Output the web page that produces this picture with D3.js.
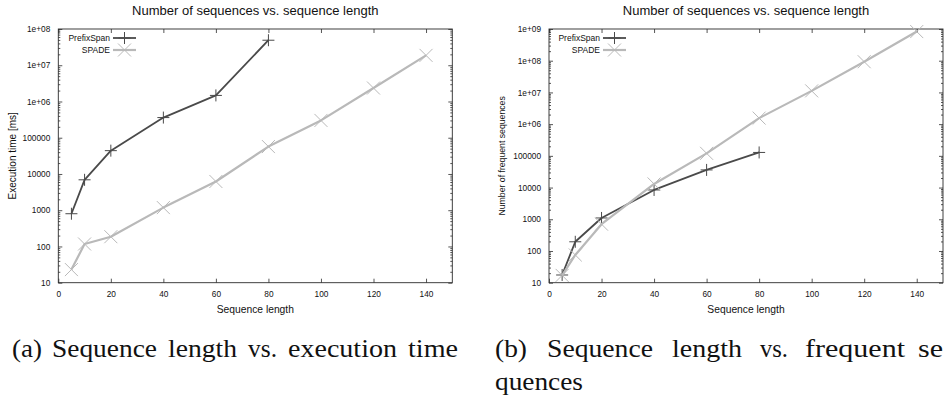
<!DOCTYPE html>
<html><head><meta charset="utf-8">
<script src="https://cdn.jsdelivr.net/npm/d3@7"></script>
<style>
html,body{margin:0;padding:0;background:#fff;}
svg{display:block;}
</style></head>
<body>
<svg id="c" width="944" height="397"></svg>
<script>
// ---- data ----
const lengthsPrefixSpan = [5, 10, 20, 40, 60, 80];
const lengthsSpade = [5, 10, 20, 40, 60, 80, 100, 120, 140];
const timePrefixSpan = [800, 6900, 44000, 360000, 1470000, 49000000];
const timeSpade = [23, 117, 186, 1180, 6200, 57000, 300000, 2350000, 18700000];
const freqPrefixSpan = [17.5, 195, 1100, 8400, 36000, 128000];
const freqSpade = [17, 75, 700, 13000, 120000, 1550000, 11200000, 93000000, 830000000];
const xTicks = [0, 20, 40, 60, 80, 100, 120, 140];
const timeTicks = [10, 100, 1000, 10000, 100000, 1e6, 1e7, 1e8];
const timeTickLabels = ["10", "100", "1000", "10000", "100000", "1e+06", "1e+07", "1e+08"];
const freqTicks = [10, 100, 1000, 10000, 100000, 1e6, 1e7, 1e8, 1e9];
const freqTickLabels = ["10", "100", "1000", "10000", "100000", "1e+06", "1e+07", "1e+08", "1e+09"];
const seriesNames = ["PrefixSpan", "SPADE"];
const chartTitle = "Number of sequences vs. sequence length";
const xLabel = "Sequence length";

const svg = d3.select("#c");
const SANS = "'Liberation Sans', Arial, Helvetica, sans-serif";
const SERIF = "'Liberation Serif', 'Times New Roman', serif";
const DARK = "#4a4a4a", LIGHT = "#b9b9b9", FRAME = "#2b2b2b";

function minorVals(domain) {
  const out = [];
  for (let e = Math.round(Math.log10(domain[0])); e < Math.round(Math.log10(domain[1])); e++) {
    for (let m = 2; m <= 9; m++) out.push(m * Math.pow(10, e));
  }
  return out;
}

function drawChart(o) {
  const g = svg.append("g");
  const x = d3.scaleLinear().domain([0, 150]).range([o.left, o.right]);
  const y = d3.scaleLog().domain(o.yDomain).range([o.bottom, o.top]);
  const W = o.right - o.left, H = o.bottom - o.top;

  const styleAxis = (sel, labels) => {
    sel.select(".domain").remove();
    sel.selectAll(".tick line").attr("stroke", FRAME).attr("stroke-width", 0.8);
    sel.selectAll(".tick text").attr("fill", "#111").attr("font-family", SANS).attr("font-size", 8.3);
    if (!labels) sel.selectAll(".tick text").remove();
  };
  g.append("g").attr("transform", `translate(0,${o.bottom})`)
    .call(d3.axisBottom(x).tickValues(xTicks).tickSizeInner(-4).tickSizeOuter(0).tickPadding(8).tickFormat(d3.format("d")))
    .call(s => styleAxis(s, true));
  g.append("g").attr("transform", `translate(0,${o.top})`)
    .call(d3.axisTop(x).tickValues(xTicks).tickSizeInner(-4).tickSizeOuter(0))
    .call(s => styleAxis(s, false));
  g.append("g").attr("transform", `translate(${o.left},0)`)
    .call(d3.axisLeft(y).tickValues(o.yTicks).tickSizeInner(-4).tickSizeOuter(0).tickPadding(8)
      .tickFormat((d, i) => o.yTickLabels[i]))
    .call(s => styleAxis(s, true));
  g.append("g").attr("transform", `translate(${o.right},0)`)
    .call(d3.axisRight(y).tickValues(o.yTicks).tickSizeInner(-4).tickSizeOuter(0))
    .call(s => styleAxis(s, false));
  const mv = minorVals(o.yDomain);
  g.append("g").attr("transform", `translate(${o.left},0)`)
    .call(d3.axisLeft(y).tickValues(mv).tickSizeInner(-2).tickSizeOuter(0).tickFormat(""))
    .call(s => styleAxis(s, false));
  g.append("g").attr("transform", `translate(${o.right},0)`)
    .call(d3.axisRight(y).tickValues(mv).tickSizeInner(-2).tickSizeOuter(0).tickFormat(""))
    .call(s => styleAxis(s, false));

  g.append("rect").attr("x", o.left).attr("y", o.top).attr("width", W).attr("height", H)
    .attr("fill", "none").attr("stroke", FRAME).attr("stroke-width", 0.9);

  g.append("text").attr("x", (o.left + o.right) / 2).attr("y", 15).attr("text-anchor", "middle")
    .attr("font-family", SANS).attr("font-size", 13).attr("fill", "#111").text(chartTitle);
  g.append("text").attr("x", (o.left + o.right) / 2).attr("y", 313).attr("text-anchor", "middle")
    .attr("font-family", SANS).attr("font-size", 10.3).attr("fill", "#111").text(xLabel);
  g.append("text").attr("transform", `translate(${o.yLabelX},${(o.top + o.bottom) / 2}) rotate(-90)`)
    .attr("text-anchor", "middle").attr("dy", "0.35em")
    .attr("font-family", SANS).attr("font-size", o.yLabelSize).attr("fill", "#111").text(o.yLabel);

  const line = d3.line().x(d => x(d[0])).y(d => y(d[1]));
  const series = [
    { name: seriesNames[0], xs: lengthsPrefixSpan, ys: o.prefix, color: DARK, w: 1.8, mark: "plus" },
    { name: seriesNames[1], xs: lengthsSpade, ys: o.spade, color: LIGHT, w: 2.2, mark: "cross" }
  ];
  const drawMark = (sel, cx, cy, type, color) => {
    const r = type === "plus" ? 6 : 6.5;
    const p = type === "plus"
      ? `M${cx - r},${cy}H${cx + r}M${cx},${cy - r}V${cy + r}`
      : `M${cx - r},${cy - r}L${cx + r},${cy + r}M${cx - r},${cy + r}L${cx + r},${cy - r}`;
    sel.append("path").attr("d", p).attr("stroke", color).attr("stroke-width", 1).attr("fill", "none");
  };
  series.forEach((s, k) => {
    const pts = s.xs.map((v, i) => [v, s.ys[i]]);
    g.append("path").datum(pts).attr("d", line).attr("fill", "none")
      .attr("stroke", s.color).attr("stroke-width", s.w).attr("stroke-linejoin", "round");
    pts.forEach(p => drawMark(g, x(p[0]), y(p[1]), s.mark, s.color));
    const ly = 38 + k * 12;
    g.append("text").attr("x", o.legX).attr("y", ly).attr("dy", "0.35em").attr("text-anchor", "end")
      .attr("font-family", SANS).attr("font-size", 8.5).attr("fill", "#111").text(s.name);
    g.append("line").attr("x1", o.legX + 3).attr("x2", o.legX + 26).attr("y1", ly).attr("y2", ly)
      .attr("stroke", s.color).attr("stroke-width", s.w);
    drawMark(g, o.legX + 14.5, ly, s.mark, s.color);
  });
}

drawChart({
  left: 58.3, right: 452.3, top: 29, bottom: 282.7,
  yDomain: [10, 1e8], yTicks: timeTicks, yTickLabels: timeTickLabels,
  yLabel: "Execution time [ms]", yLabelX: 12, yLabelSize: 10,
  prefix: timePrefixSpan, spade: timeSpade, legX: 110
});
drawChart({
  left: 549, right: 943, top: 29, bottom: 282.7,
  yDomain: [10, 1e9], yTicks: freqTicks, yTickLabels: freqTickLabels,
  yLabel: "Number of frequent sequences", yLabelX: 502, yLabelSize: 8.7,
  prefix: freqPrefixSpan, spade: freqSpade, legX: 600
});

// captions
const capAWords = ["(a)", "Sequence", "length", "vs.", "execution", "time"];
const capAWordX = [12, 52, 168, 248, 288, 408];
const capAWordW = [30, 105, 69, 29, 109, 50];
capAWords.forEach((w, i) => {
  svg.append("text").attr("x", capAWordX[i]).attr("y", 357).attr("font-family", SERIF).attr("font-size", 25)
    .attr("fill", "#111").attr("textLength", capAWordW[i]).attr("lengthAdjust", "spacingAndGlyphs").text(w);
});
const capBWords = ["(b)", "Sequence", "length", "vs.", "frequent", "se"];
const capBWordX = [495, 547, 672, 760, 805, 918];
const capBWordW = [32, 106, 70, 28, 100, 25];
capBWords.forEach((w, i) => {
  svg.append("text").attr("x", capBWordX[i]).attr("y", 357).attr("font-family", SERIF).attr("font-size", 25)
    .attr("fill", "#111").attr("textLength", capBWordW[i]).attr("lengthAdjust", "spacingAndGlyphs").text(w);
});
svg.append("text").attr("x", 495).attr("y", 390).attr("font-family", SERIF).attr("font-size", 25)
  .attr("fill", "#111").attr("textLength", 88).attr("lengthAdjust", "spacingAndGlyphs").text("quences");
</script>
</body></html>
